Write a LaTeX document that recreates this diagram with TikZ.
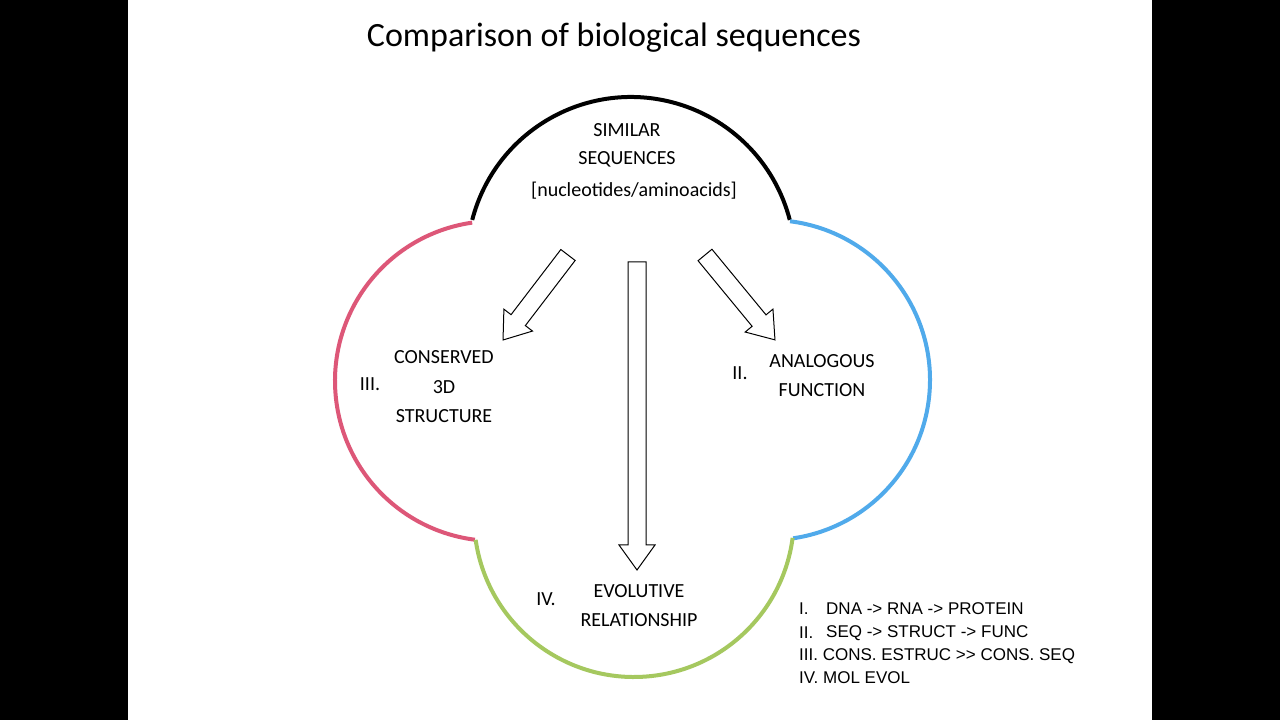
\documentclass[tikz,border=0pt]{standalone}
\usepackage{fontspec}
\setmainfont{Carlito}
\newfontfamily\legfont{Liberation Sans}
\begin{document}
\begin{tikzpicture}[x=1pt,y=1pt,
  lbl/.style={font=\fontsize{20}{24}\selectfont, inner sep=0pt, align=center},
  leg/.style={font=\legfont\fontsize{17}{20}\selectfont, inner sep=0pt, anchor=west},
  arc/.style={line width=4pt},
  barrow/.style={draw=black, line width=1pt, fill=white}]
\fill[black] (0,0) rectangle (1280,720);
\fill[white] (128,0) rectangle (1152,720);
\useasboundingbox (0,0) rectangle (1280,720);
\node[lbl, font=\fontsize{34}{40}\selectfont] (title) at (614,682) {Comparison of biological sequences};
% arcs
\draw[arc, black] (631,459) ++(165.5:164) arc[start angle=165.5, end angle=14.5, radius=164];
\draw[arc, color={rgb,255:red,221;green,87;blue,120}] (495,339) ++(98.2:160) arc[start angle=98.2, end angle=262.8, radius=160];
\draw[arc, color={rgb,255:red,80;green,170;blue,235}] (770,340) ++(82.8:160) arc[start angle=82.8, end angle=-81.7, radius=160];
\draw[arc, color={rgb,255:red,165;green,200;blue,95}] (634,203) ++(188.2:160) arc[start angle=188.2, end angle=352.5, radius=160];
% block arrows
\begin{scope}[shift={(568,465)}, rotate=232.6]
\draw[barrow] (0,-9)--(82,-9)--(82,-18)--(107,0)--(82,18)--(82,9)--(0,9)--cycle;
\end{scope}
\begin{scope}[shift={(705,465)}, rotate=-50.5]
\draw[barrow] (0,-9)--(85,-9)--(85,-18)--(110,0)--(85,18)--(85,9)--(0,9)--cycle;
\end{scope}
\begin{scope}[shift={(637,458)}, rotate=-90]
\draw[barrow] (0,-9)--(283,-9)--(283,-18)--(308,0)--(283,18)--(283,9)--(0,9)--cycle;
\end{scope}
% labels
\node[lbl] (s1) at (627,590) {SIMILAR};
\node[lbl] (s2) at (627,561) {SEQUENCES};
\node[lbl] (s3) at (634,529) {[nucleotides/aminoacids]};
\node[lbl] (c1) at (444,363) {CONSERVED};
\node[lbl] (c2) at (444,333) {3D};
\node[lbl] (c3) at (444,304) {STRUCTURE};
\node[lbl] (n3) at (370,336) {III.};
\node[lbl] (n2) at (740,347) {II.};
\node[lbl] (a1) at (822,359) {ANALOGOUS};
\node[lbl] (a2) at (822,330) {FUNCTION};
\node[lbl] (n4) at (546,121) {IV.};
\node[lbl] (e1) at (639,129) {EVOLUTIVE};
\node[lbl] (e2) at (639,100) {RELATIONSHIP};
% legend
\node[leg] (l1n) at (799,111) {I.};
\node[leg] (l1) at (826,111) {DNA -> RNA -> PROTEIN};
\node[leg] (l2n) at (799,87) {II.};
\node[leg] (l2) at (826,87) {SEQ -> STRUCT -> FUNC};
\node[leg] (l3) at (799,64) {III. CONS. ESTRUC >> CONS. SEQ};
\node[leg] (l4) at (799,42) {IV. MOL EVOL};
\end{tikzpicture}
\end{document}
